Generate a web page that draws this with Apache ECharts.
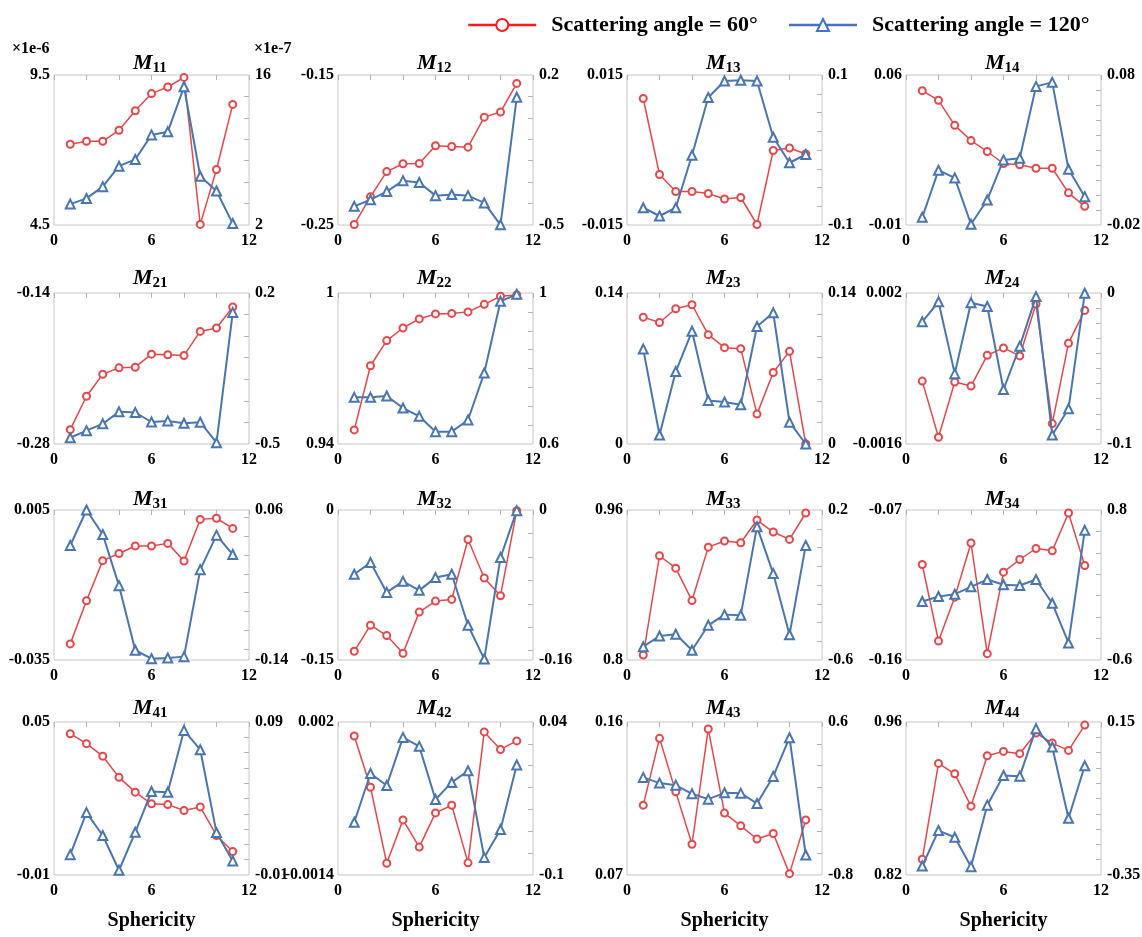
<!DOCTYPE html>
<html>
<head>
<meta charset="utf-8">
<script src="https://cdn.jsdelivr.net/npm/echarts@6/dist/echarts.min.js"></script>
<style>
html,body{margin:0;padding:0;background:#ffffff;}
#chart{width:1142px;height:937px;}
</style>
</head>
<body>
<div id="chart"></div>
<script>
// ---------------- DATA ----------------
const sphericity = [1, 2, 3, 4, 5, 6, 7, 8, 9, 10, 11];
const seriesNames = ['Scattering angle = 60°', 'Scattering angle = 120°'];
const xTickLabels = [0, 6, 12];

// M11 (left axis ×1e-6, right axis ×1e-7)
const M11_60  = [7.19, 7.29, 7.29, 7.66, 8.31, 8.88, 9.10, 9.42, 4.52, 6.35, 8.52];
const M11_120 = [3.95, 4.48, 5.58, 7.49, 8.12, 10.41, 10.70, 14.90, 6.55, 5.17, 2.13];
const M12_60  = [-0.2497, -0.2311, -0.2144, -0.2092, -0.2090, -0.1972, -0.1977, -0.1981, -0.1781, -0.1747, -0.1556];
const M12_120 = [-0.413, -0.382, -0.344, -0.293, -0.302, -0.363, -0.358, -0.363, -0.397, -0.499, 0.096];
const M13_60  = [0.0103, -0.0049, -0.0083, -0.0083, -0.0087, -0.0098, -0.0095, -0.0149, -0.0001, 0.0004, -0.0008];
const M13_120 = [-0.077, -0.088, -0.077, -0.007, 0.070, 0.092, 0.093, 0.092, 0.017, -0.017, -0.006];
const M14_60  = [0.0527, 0.0482, 0.0365, 0.0294, 0.0243, 0.0187, 0.0181, 0.0165, 0.0165, 0.0050, -0.0013];
const M14_120 = [-0.0149, 0.0165, 0.0114, -0.0195, -0.0033, 0.0234, 0.0245, 0.0724, 0.0751, 0.0172, -0.0011];

const M21_60  = [-0.2667, -0.2357, -0.2153, -0.2094, -0.2088, -0.1967, -0.1973, -0.1979, -0.1756, -0.1725, -0.1530];
const M21_120 = [-0.471, -0.438, -0.406, -0.351, -0.354, -0.398, -0.393, -0.404, -0.399, -0.494, 0.110];
const M22_60  = [0.9456, 0.9711, 0.9811, 0.9861, 0.9897, 0.9917, 0.9919, 0.9925, 0.9955, 0.9987, 0.9992];
const M22_120 = [0.7236, 0.7236, 0.7271, 0.6954, 0.6733, 0.6327, 0.6327, 0.6636, 0.7881, 0.9779, 0.9965];
const M23_60  = [0.1176, 0.1126, 0.1254, 0.1291, 0.1014, 0.0893, 0.0884, 0.0277, 0.0663, 0.0859, 0.0];
const M23_120 = [0.0880, 0.0084, 0.0672, 0.1045, 0.0404, 0.0389, 0.0364, 0.1089, 0.1216, 0.0202, 0.0];
const M24_60  = [-0.0001, -0.00144, -0.000123, -0.000219, 0.000515, 0.000691, 0.0005, 0.001737, -0.001113, 0.000803, 0.001585];
const M24_120 = [-0.0191, -0.0058, -0.0534, -0.0064, -0.0089, -0.0639, -0.0353, -0.0024, -0.094, -0.0767, -0.0002];

const M31_60  = [-0.0307, -0.0192, -0.0085, -0.0066, -0.0046, -0.0046, -0.0039, -0.0086, 0.0025, 0.0028, 0.0001];
const M31_120 = [0.0127, 0.0600, 0.0274, -0.0409, -0.1270, -0.1382, -0.1373, -0.1355, -0.0195, 0.0265, 0.0006];
const M32_60  = [-0.1413, -0.1152, -0.1256, -0.1433, -0.1021, -0.0911, -0.0894, -0.0295, -0.0680, -0.0857, -0.0007];
const M32_120 = [-0.0686, -0.0561, -0.0879, -0.0761, -0.0857, -0.0721, -0.0686, -0.1229, -0.1590, -0.0507, -0.0007];
const M33_60  = [0.8053, 0.9112, 0.8980, 0.8634, 0.9204, 0.9269, 0.9251, 0.9493, 0.9365, 0.9286, 0.9568];
const M33_120 = [-0.529, -0.472, -0.463, -0.548, -0.415, -0.358, -0.361, 0.111, -0.139, -0.465, 0.011];
const M34_60  = [-0.1027, -0.1486, -0.1223, -0.0898, -0.1562, -0.1073, -0.0997, -0.0931, -0.0945, -0.0718, -0.1033];
const M34_120 = [-0.054, -0.008, 0.014, 0.083, 0.151, 0.102, 0.095, 0.151, -0.070, -0.441, 0.610];

const M41_60  = [0.0454, 0.0415, 0.0366, 0.0283, 0.0225, 0.0179, 0.0176, 0.0153, 0.0167, 0.0055, -0.0008];
const M41_120 = [0.0033, 0.0308, 0.0158, -0.0069, 0.0179, 0.0446, 0.0441, 0.0845, 0.0719, 0.0177, -0.0008];
const M42_60  = [0.00169, 0.00055, -0.00114, -0.000175, -0.00078, -0.00002, 0.00015, -0.00113, 0.00178, 0.00139, 0.00158];
const M42_120 = [-0.0517, -0.0071, -0.0181, 0.0259, 0.0177, -0.0309, -0.0153, -0.0046, -0.0841, -0.0584, 0.0006];
const M43_60  = [0.1111, 0.1504, 0.1189, 0.0881, 0.1559, 0.1064, 0.0989, 0.0912, 0.0944, 0.0708, 0.1024];
const M43_120 = [0.093, 0.041, 0.022, -0.057, -0.106, -0.048, -0.051, -0.146, 0.102, 0.456, -0.617];
const M44_60  = [0.8344, 0.9221, 0.9126, 0.8830, 0.9291, 0.9331, 0.9310, 0.9499, 0.9407, 0.9340, 0.9572];
const M44_120 = [-0.3205, -0.2048, -0.2266, -0.3227, -0.1218, -0.0247, -0.0269, 0.1282, 0.0681, -0.1644, 0.0070];

// axis ranges [min, max] (tick labels are the two ends)
const leftRanges = [
  [4.5, 9.5], [-0.25, -0.15], [-0.015, 0.015], [-0.01, 0.06],
  [-0.28, -0.14], [0.94, 1], [0, 0.14], [-0.0016, 0.002],
  [-0.035, 0.005], [-0.15, 0], [0.8, 0.96], [-0.16, -0.07],
  [-0.01, 0.05], [-0.0014, 0.002], [0.07, 0.16], [0.82, 0.96]
];
const rightRanges = [
  [2, 16], [-0.5, 0.2], [-0.1, 0.1], [-0.02, 0.08],
  [-0.5, 0.2], [0.6, 1], [0, 0.14], [-0.1, 0],
  [-0.14, 0.06], [-0.16, 0], [-0.6, 0.2], [-0.6, 0.8],
  [-0.01, 0.09], [-0.1, 0.04], [-0.8, 0.6], [-0.35, 0.15]
];
const panelIndex = ['11','12','13','14','21','22','23','24','31','32','33','34','41','42','43','44'];
const data60  = [M11_60, M12_60, M13_60, M14_60, M21_60, M22_60, M23_60, M24_60, M31_60, M32_60, M33_60, M34_60, M41_60, M42_60, M43_60, M44_60];
const data120 = [M11_120, M12_120, M13_120, M14_120, M21_120, M22_120, M23_120, M24_120, M31_120, M32_120, M33_120, M34_120, M41_120, M42_120, M43_120, M44_120];

// ---------------- LAYOUT / STYLE ----------------
const FONT = '"Liberation Serif", "Times New Roman", serif';
const RED = '#e6474b';
const BLUE = '#4a76b0';
const colLeft = [54, 338, 627, 906];
const colWidth = 195;
const rowTop = [75, 293, 510, 722];
const rowHeight = [150, 151, 150, 153];
const titleY = [63, 278, 499, 708];
const frameColor = '#c6c6c6';
const tickColor = '#b4b4b4';

function fmt(v) { return parseFloat(Number(v).toPrecision(6)).toString(); }
function niceStep(x) {
  const e = Math.pow(10, Math.floor(Math.log10(x)));
  const f = x / e;
  const nf = f < 1.5 ? 1 : f < 2.25 ? 2 : f < 3.5 ? 2.5 : f < 7.5 ? 5 : 10;
  return nf * e;
}
function innerTicks(r) {
  const step = niceStep((r[1] - r[0]) / 7);
  const out = [];
  let k = Math.ceil(r[0] / step - 1e-9);
  for (; k * step < r[1] - step * 1e-6; k++) {
    const v = parseFloat((k * step).toPrecision(10));
    if (v > r[0] + step * 1e-6) out.push(v);
  }
  return out;
}

const labelStyle = { fontFamily: FONT, fontWeight: 'bold', fontSize: 16, color: '#000' };

const grids = [], xAxes = [], yAxes = [], series = [], titles = [];
panelIndex.forEach((p, i) => {
  const r = Math.floor(i / 4), c = i % 4;
  const cx = colLeft[c] + colWidth / 2;
  grids.push({
    left: colLeft[c], top: rowTop[r], width: colWidth, height: rowHeight[r],
    show: true, borderColor: frameColor, borderWidth: 1, backgroundColor: 'transparent',
    containLabel: false, outerBoundsMode: 'none'
  });
  xAxes.push({
    gridIndex: i, type: 'value', min: 0, max: 12, position: 'bottom',
    axisLine: { show: false, onZero: false }, axisTick: { show: false }, splitLine: { show: false },
    axisLabel: Object.assign({ customValues: xTickLabels, margin: 8 }, labelStyle),
    name: r === 3 ? 'Sphericity' : '', nameLocation: 'middle', nameGap: 36,
    nameTextStyle: { fontFamily: FONT, fontWeight: 'bold', fontSize: 20, color: '#000' }
  });
  xAxes.push({
    gridIndex: i, type: 'value', min: 0, max: 12, interval: 2, position: 'top',
    axisLine: { show: false, onZero: false }, axisLabel: { show: false }, splitLine: { show: false },
    axisTick: { show: true, inside: true, length: 5, lineStyle: { color: tickColor } }
  });
  const L = leftRanges[i], R = rightRanges[i];
  yAxes.push({
    gridIndex: i, type: 'value', min: L[0], max: L[1], position: 'left',
    axisLine: { show: false, onZero: false }, axisTick: { show: false }, splitLine: { show: false },
    axisLabel: Object.assign({ customValues: [L[0], L[1]], formatter: fmt, margin: 4 }, labelStyle)
  });
  yAxes.push({
    gridIndex: i, type: 'value', min: R[0], max: R[1], position: 'right',
    axisLine: { show: false, onZero: false }, splitLine: { show: false },
    axisTick: { show: true, inside: true, length: 5, customValues: innerTicks(R), lineStyle: { color: tickColor } },
    axisLabel: Object.assign({ customValues: [R[0], R[1]], formatter: fmt, margin: 6 }, labelStyle)
  });
  series.push({
    type: 'line', name: seriesNames[0], xAxisIndex: 2 * i, yAxisIndex: 2 * i,
    data: sphericity.map((x, k) => [x, data60[i][k]]),
    symbol: 'emptyCircle', symbolSize: 7, clip: false,
    lineStyle: { color: RED, width: 1.5 },
    itemStyle: { color: RED, borderColor: RED, borderWidth: 1.3 },
    emphasis: { disabled: true }, z: 2
  });
  series.push({
    type: 'line', name: seriesNames[1], xAxisIndex: 2 * i, yAxisIndex: 2 * i + 1,
    data: sphericity.map((x, k) => [x, data120[i][k]]),
    symbol: 'emptyTriangle', symbolSize: 9, clip: false,
    lineStyle: { color: BLUE, width: 2 },
    itemStyle: { color: BLUE, borderColor: BLUE, borderWidth: 1.5 },
    emphasis: { disabled: true }, z: 3
  });
  // title: italic bold "M" + bold subscript indices
  titles.push({
    text: 'M', left: cx + 1, top: titleY[r] - 12, textAlign: 'right', padding: 0,
    textStyle: { fontFamily: FONT, fontSize: 22, fontWeight: 'bold', fontStyle: 'italic', color: '#000', lineHeight: 24 }
  });
  titles.push({
    text: p, left: cx + 1, top: titleY[r] - 3, textAlign: 'left', padding: 0,
    textStyle: { fontFamily: FONT, fontSize: 15, fontWeight: 'bold', color: '#000', lineHeight: 16 }
  });
});

const option = {
  animation: false,
  backgroundColor: '#ffffff',
  title: titles,
  legend: {
    top: 9, left: 462, itemWidth: 68, itemHeight: 15, itemGap: 30,
    textStyle: { fontFamily: FONT, fontSize: 22, fontWeight: 'bold', color: '#000', padding: [0, 0, 0, 10] },
    data: [
      { name: seriesNames[0], itemStyle: { color: '#ff1a1a', borderWidth: 2 }, lineStyle: { color: '#ff1a1a', width: 2.5 } },
      { name: seriesNames[1], itemStyle: { color: '#4472c4', borderWidth: 2 }, lineStyle: { color: '#4472c4', width: 2.5 } }
    ]
  },
  graphic: [
    { type: 'text', left: 12, top: 41, style: { text: '×1e-6', font: 'bold 16px "Liberation Serif"', fill: '#000' } },
    { type: 'text', left: 254, top: 41, style: { text: '×1e-7', font: 'bold 16px "Liberation Serif"', fill: '#000' } }
  ],
  grid: grids,
  xAxis: xAxes,
  yAxis: yAxes,
  series: series
};

const chart = echarts.init(document.getElementById('chart'), null, { renderer: 'canvas' });
chart.setOption(option);
</script>
</body>
</html>
